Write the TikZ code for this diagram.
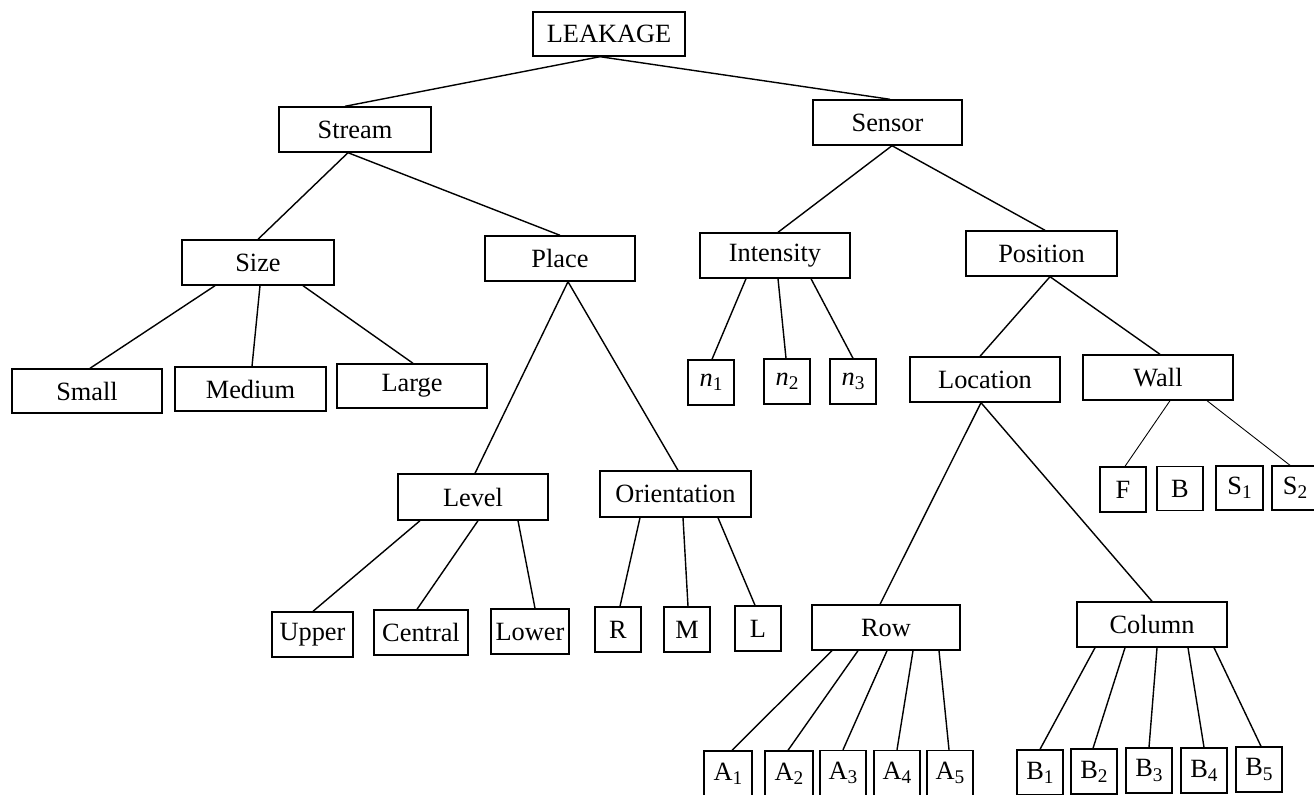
\documentclass[tikz,border=0pt]{standalone}
\usepackage{fontspec}
\setmainfont{Liberation Serif}
\newcommand\lk[5][]{\draw[edge,#1] ([xshift=#3*0.02cm]#2.south) -- ([xshift=#5*0.02cm]#4.north);}
\newcommand\sbs[1]{\raisebox{-0.35ex}{\fontsize{11}{12}\selectfont #1}}
\begin{document}
\begin{tikzpicture}[x=0.02cm,y=-0.02cm,
  bx/.style n args={2}{draw, line width=0.8pt, inner sep=0pt, font=\fontsize{15}{16}\selectfont,
     minimum width=#1*0.02cm, minimum height=#2*0.02cm},
  edge/.style={line width=0.8pt},
  thinedge/.style={line width=0.5pt}]
\useasboundingbox (0,0) rectangle (1314,794);
\node[bx={152}{44}] (leak) at (609,34) {LEAKAGE};
\node[bx={152}{45}] (stream) at (355,129.5) {Stream};
\node[bx={149}{45}] (sensor) at (887.5,122.5) {Sensor};
\node[bx={152}{45}] (size) at (258,262.5) {Size};
\node[bx={150}{45}] (place) at (560,258.5) {Place};
\node[bx={150}{45}] (intensity) at (775,255.5) {Intensity};
\node[bx={151}{45}] (position) at (1041.5,253.5) {Position};
\node[bx={150}{44}] (small) at (87,391) {Small};
\node[bx={151}{44}] (medium) at (250.5,389) {Medium};
\node[bx={150}{44}] (large) at (412,386) {Large};
\node[bx={46}{45}] (n1) at (711,382.5) {\textit{n}\sbs{1}};
\node[bx={46}{45}] (n2) at (787,381.5) {\textit{n}\sbs{2}};
\node[bx={46}{45}] (n3) at (853,381.5) {\textit{n}\sbs{3}};
\node[bx={150}{45}] (location) at (985,379.5) {Location};
\node[bx={150}{45}] (wall) at (1158,377.5) {Wall};
\node[bx={46}{45}] (wf) at (1123,489.5) {F};
\node[bx={46}{44}] (wb) at (1180,488.5) {B};
\node[bx={47}{44}] (ws1) at (1239.5,488) {S\sbs{1}};
\node[bx={46}{44}] (ws2) at (1295,488) {S\sbs{2}};
\node[bx={150}{46}] (level) at (473,497) {Level};
\node[bx={151}{46}] (orient) at (675.5,494) {Orientation};
\node[bx={81}{45}] (upper) at (312.5,634.5) {Upper};
\node[bx={94}{45}] (central) at (421,632.5) {Central};
\node[bx={78}{45}] (lower) at (530,631.5) {Lower};
\node[bx={46}{45}] (oR) at (618,629.5) {R};
\node[bx={46}{45}] (oM) at (687,629.5) {M};
\node[bx={46}{45}] (oL) at (758,628.5) {L};
\node[bx={148}{45}] (row) at (886,627.5) {Row};
\node[bx={150}{45}] (column) at (1152,624.5) {Column};
\node[bx={48}{45}] (a1) at (728,773.5) {A\sbs{1}};
\node[bx={48}{45}] (a2) at (789,773.5) {A\sbs{2}};
\node[bx={46}{45}] (a3) at (843,773) {A\sbs{3}};
\node[bx={46}{45}] (a4) at (897,773) {A\sbs{4}};
\node[bx={46}{45}] (a5) at (950,773) {A\sbs{5}};
\node[bx={46}{45}] (b1) at (1040,772.5) {B\sbs{1}};
\node[bx={46}{45}] (b2) at (1094,771.5) {B\sbs{2}};
\node[bx={46}{45}] (b3) at (1149,770.5) {B\sbs{3}};
\node[bx={46}{45}] (b4) at (1204,770.5) {B\sbs{4}};
\node[bx={46}{45}] (b5) at (1259,769.5) {B\sbs{5}};
\lk{leak}{-9}{stream}{-10}
\lk{leak}{-9}{sensor}{2.5}
\lk{stream}{-7}{size}{0}
\lk{stream}{-7}{place}{0}
\lk{sensor}{4.5}{intensity}{3}
\lk{sensor}{4.5}{position}{3.5}
\lk{size}{-43}{small}{3}
\lk{size}{2}{medium}{1.5}
\lk{size}{45}{large}{1}
\lk{place}{8}{level}{2}
\lk{place}{8}{orient}{2.5}
\lk{intensity}{-29}{n1}{1}
\lk{intensity}{3}{n2}{-1}
\lk{intensity}{36}{n3}{0}
\lk{position}{8.5}{location}{-5}
\lk{position}{8.5}{wall}{2}
\lk{location}{-4}{row}{-6}
\lk{location}{-4}{column}{0}
\lk[thinedge]{wall}{12}{wf}{2}
\lk[thinedge]{wall}{49}{ws2}{-5}
\lk{level}{-53}{upper}{0.5}
\lk{level}{5}{central}{-4}
\lk{level}{45}{lower}{5}
\lk{orient}{-35.5}{oR}{2}
\lk{orient}{7.5}{oM}{1}
\lk{orient}{42.5}{oL}{-3}
\lk{row}{-54}{a1}{4}
\lk{row}{-28}{a2}{-1}
\lk{row}{1}{a3}{0}
\lk{row}{27}{a4}{0}
\lk{row}{53}{a5}{-1}
\lk{column}{-57}{b1}{0}
\lk{column}{-27}{b2}{-1}
\lk{column}{5}{b3}{0}
\lk{column}{36}{b4}{0}
\lk{column}{62}{b5}{2}
\end{tikzpicture}
\end{document}
